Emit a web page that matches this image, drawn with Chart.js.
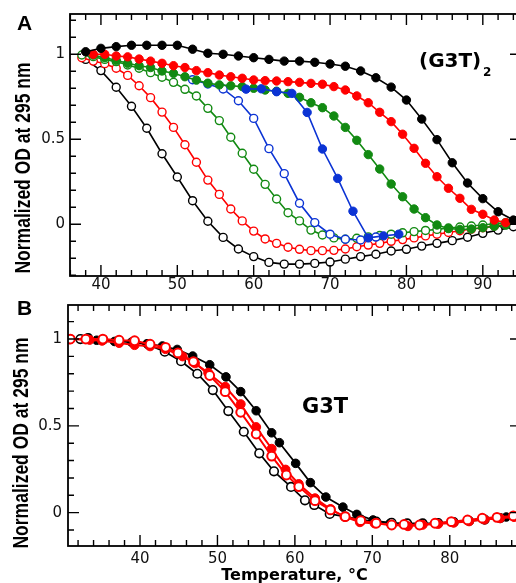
<!DOCTYPE html>
<html>
<head>
<meta charset="utf-8">
<script src="https://cdn.jsdelivr.net/npm/chart.js@4.4.1/dist/chart.umd.min.js"></script>
<style>
    html, body { margin: 0; padding: 0; background: #fff; overflow: hidden; }
    #wrap { position: relative; width: 516px; height: 583px; overflow: hidden; background: #fff; }
    #wrap canvas { position: absolute; left: 0; }
</style>
</head>
<body>
<div id="wrap">
    <canvas id="chartA" width="530" height="300" style="top:0"></canvas>
    <canvas id="chartB" width="530" height="300" style="top:290px"></canvas>
</div>
<script>
// Panel A, (G3T)2 melting curves
const aTempEven = [38, 40, 42, 44, 46, 48, 50, 52, 54, 56, 58, 60, 62, 64, 66, 68, 70, 72, 74, 76, 78, 80, 82, 84, 86, 88, 90, 92, 94];
const aTempOdd = [37.5, 39, 40.5, 42, 43.5, 45, 46.5, 48, 49.5, 51, 52.5, 54, 55.5, 57, 58.5, 60, 61.5, 63, 64.5, 66, 67.5, 69, 70.5, 72, 73.5, 75, 76.5, 78, 79.5, 81, 82.5, 84, 85.5, 87, 88.5, 90, 91.5, 93];
const aTempOddFrom39 = [39, 40.5, 42, 43.5, 45, 46.5, 48, 49.5, 51, 52.5, 54, 55.5, 57, 58.5, 60, 61.5, 63, 64.5, 66, 67.5, 69, 70.5, 72, 73.5, 75, 76.5, 78, 79.5, 81, 82.5, 84, 85.5, 87, 88.5, 90, 91.5, 93];
const aBlueOpenTemp = [52, 54, 56, 58, 60, 62, 64, 66, 68, 70, 72, 74, 76];
const aBlueFilledTemp = [59, 61, 63, 65, 67, 69, 71, 73, 75, 77, 79];

const aBlackFilled = [1.015, 1.035, 1.045, 1.053, 1.053, 1.053, 1.053, 1.03, 1.006, 1.0, 0.99, 0.98, 0.97, 0.96, 0.96, 0.953, 0.943, 0.93, 0.902, 0.862, 0.807, 0.731, 0.619, 0.498, 0.362, 0.243, 0.151, 0.074, 0.025];
const aBlackOpen = [0.97, 0.904, 0.806, 0.694, 0.565, 0.415, 0.278, 0.139, 0.018, -0.077, -0.145, -0.19, -0.224, -0.234, -0.234, -0.23, -0.222, -0.205, -0.19, -0.176, -0.157, -0.147, -0.128, -0.112, -0.096, -0.076, -0.053, -0.034, -0.014];
const aRedFilled = [1.0, 1.0, 0.99, 0.985, 0.972, 0.96, 0.947, 0.933, 0.922, 0.904, 0.892, 0.878, 0.868, 0.859, 0.849, 0.845, 0.843, 0.839, 0.835, 0.829, 0.824, 0.81, 0.79, 0.755, 0.715, 0.659, 0.604, 0.53, 0.447, 0.359, 0.28, 0.212, 0.153, 0.088, 0.059, 0.025, 0.01];
const aRedOpen = [0.98, 0.96, 0.945, 0.918, 0.876, 0.815, 0.745, 0.66, 0.57, 0.468, 0.365, 0.26, 0.176, 0.09, 0.02, -0.04, -0.086, -0.112, -0.135, -0.147, -0.155, -0.155, -0.153, -0.145, -0.132, -0.122, -0.112, -0.1, -0.09, -0.08, -0.068, -0.058, -0.048, -0.038, -0.028, -0.02, -0.01, 0.0];
const aGreenFilled = [0.995, 0.98, 0.965, 0.947, 0.933, 0.922, 0.902, 0.888, 0.868, 0.848, 0.83, 0.82, 0.815, 0.81, 0.8, 0.79, 0.783, 0.77, 0.747, 0.715, 0.686, 0.637, 0.57, 0.494, 0.41, 0.325, 0.237, 0.162, 0.09, 0.039, -0.004, -0.025, -0.03, -0.028, -0.02, -0.012, -0.005];
const aGreenOpen = [0.996, 0.986, 0.97, 0.957, 0.937, 0.918, 0.892, 0.865, 0.835, 0.794, 0.755, 0.682, 0.61, 0.512, 0.418, 0.324, 0.235, 0.149, 0.068, 0.02, -0.034, -0.063, -0.08, -0.088, -0.082, -0.074, -0.066, -0.058, -0.05, -0.043, -0.036, -0.03, -0.022, -0.016, -0.01, -0.004, 0.003, 0.01];
const aBlueFilled = [0.795, 0.797, 0.78, 0.77, 0.658, 0.443, 0.27, 0.077, -0.08, -0.068, -0.058];
const aBlueOpen = [0.85, 0.825, 0.796, 0.727, 0.623, 0.445, 0.298, 0.124, 0.01, -0.058, -0.088, -0.092, -0.075];

// Panel B, G3T melting curves
const bBlackFilledTemp = [30.5, 34.4, 36.7, 38.9, 40.9, 42.9, 44.8, 46.8, 49, 51.1, 53, 55, 57, 58, 60.1, 62, 64, 66.2, 68, 70.1, 72.3, 74.2, 76.2, 78.3, 80.3, 82.4, 84.4, 87.3];
const bBlackFilled = [1.0, 0.993, 0.986, 0.982, 0.973, 0.96, 0.94, 0.902, 0.852, 0.782, 0.697, 0.587, 0.46, 0.403, 0.284, 0.173, 0.09, 0.032, -0.01, -0.042, -0.061, -0.067, -0.067, -0.062, -0.055, -0.046, -0.037, -0.025];
const bBlackOpenTemp = [32.3, 33.3, 35.2, 37.2, 39.2, 41.2, 43.2, 45.3, 47.4, 49.4, 51.4, 53.4, 55.4, 57.3, 59.5, 61.3, 62.5, 64.5, 66.5, 68.5, 70.5, 72.5, 74.5, 76.5, 78.5, 80.5, 82.5, 84.5, 86.5];
const bBlackOpen = [1.0, 1.005, 0.995, 0.99, 0.984, 0.965, 0.927, 0.872, 0.8, 0.706, 0.585, 0.466, 0.342, 0.238, 0.148, 0.071, 0.044, -0.007, -0.023, -0.04, -0.052, -0.058, -0.062, -0.062, -0.06, -0.055, -0.048, -0.04, -0.032];
const bRedFilledTemp = [31, 33.5, 35.1, 37.3, 39.3, 41.3, 43.3, 45.5, 47.1, 48.8, 51, 53, 55, 57, 58.8, 60.5, 62.6, 64.6, 66.4, 68.4, 70.3, 72.5, 74.6, 76.5, 78.5, 80.5, 82.5, 84.5, 86.5, 88.3];
const bRedFilled = [1.0, 0.995, 0.99, 0.977, 0.965, 0.958, 0.942, 0.9, 0.86, 0.806, 0.725, 0.625, 0.493, 0.368, 0.248, 0.165, 0.083, 0.021, -0.023, -0.055, -0.062, -0.07, -0.078, -0.07, -0.065, -0.058, -0.05, -0.04, -0.032, -0.025];
const bRedOpenTemp = [31, 33, 35.2, 37.3, 39.3, 41.3, 43.3, 44.9, 46.9, 49, 51, 53, 55, 57, 58.9, 60.5, 62.6, 64.6, 66.5, 68.5, 70.5, 72.5, 74.1, 76.1, 78.1, 80.2, 82.3, 84.2, 86.1, 88.2];
const bRedOpen = [1.0, 1.0, 1.0, 0.993, 0.99, 0.97, 0.952, 0.92, 0.87, 0.79, 0.697, 0.578, 0.453, 0.326, 0.217, 0.15, 0.069, 0.016, -0.023, -0.046, -0.061, -0.071, -0.068, -0.071, -0.061, -0.052, -0.042, -0.032, -0.027, -0.019];

const BLACK = '#000000';
const RED = '#ff0000';
const GREEN = '#128a12';
const BLUE = '#0b33d4';

// one curve: filled or open circles joined by a line
function curve(temps, values, color, filled, size) {
    return {
        data: temps.map((t, i) => ({ x: t, y: values[i] })),
        showLine: true,
        borderColor: color,
        borderWidth: size.line,
        backgroundColor: filled ? color : '#ffffff',
        pointBackgroundColor: filled ? color : '#ffffff',
        pointBorderColor: color,
        pointBorderWidth: filled ? 1 : size.ring,
        pointRadius: filled ? size.dot : size.open,
        tension: 0
    };
}

// box round the plot with inward ticks
const frameTicks = {
    id: 'frameTicks',
    afterDatasetsDraw(chart, args, opts) {
        const { ctx, chartArea: a, scales: { x, y } } = chart;
        ctx.save();
        ctx.strokeStyle = '#000';
        ctx.lineWidth = 1.4;
        ctx.beginPath();
        for (let v = Math.ceil(x.min / 2) * 2; v <= x.max; v += 2) {
            const px = x.getPixelForValue(v);
            const len = v % 10 === 0 ? 11 : 6;
            ctx.moveTo(px, a.bottom); ctx.lineTo(px, a.bottom - len);
            ctx.moveTo(px, a.top); ctx.lineTo(px, a.top + len);
        }
        for (let k = Math.ceil(y.min * 10); k <= y.max * 10; k++) {
            const py = y.getPixelForValue(k / 10);
            const major = k % 5 === 0;
            ctx.moveTo(a.left, py); ctx.lineTo(a.left + (major ? 11 : 6), py);
            if (major) { ctx.moveTo(a.right, py); ctx.lineTo(a.right - 11, py); }
        }
        ctx.stroke();
        ctx.lineWidth = 1.8;
        ctx.strokeRect(a.left, a.top, a.right - a.left, a.bottom - a.top);
        ctx.restore();
    }
};

// panel letters, curve names and the y title
const panelText = {
    id: 'panelText',
    afterDraw(chart, args, opts) {
        const ctx = chart.ctx;
        ctx.save();
        ctx.fillStyle = '#000';
        opts.items.forEach(it => {
            ctx.save();
            ctx.font = it.font;
            ctx.translate(it.x, it.y);
            ctx.scale(it.stretch || 1, 1);
            if (it.rotate) ctx.rotate(it.rotate);
            ctx.textAlign = it.align || 'left';
            ctx.textBaseline = it.baseline || 'alphabetic';
            ctx.fillText(it.text, 0, 0);
            ctx.restore();
        });
        ctx.restore();
    }
};

function panelOptions(p) {
    return {
        responsive: false,
        animation: false,
        layout: { padding: { top: p.top, right: p.right, left: 0, bottom: 0 } },
        plugins: {
            legend: { display: false },
            tooltip: { enabled: false },
            panelText: { items: p.texts }
        },
        scales: {
            x: {
                type: 'linear',
                min: p.xMin,
                max: p.xMax,
                grid: { display: false, drawTicks: false },
                border: { display: false },
                ticks: {
                    stepSize: 10,
                    includeBounds: false,
                    padding: p.xPad,
                    color: '#111',
                    font: { family: 'DejaVu Sans', size: 15 }
                },
                title: p.xTitle ? {
                    display: true,
                    text: p.xTitle,
                    color: '#000',
                    padding: { top: 0, bottom: 5 },
                    font: { family: 'DejaVu Sans', size: 16, weight: 'bold' }
                } : { display: false },
                afterFit: s => { s.height = p.xHeight; }
            },
            y: {
                type: 'linear',
                min: p.yMin,
                max: p.yMax,
                grid: { display: false, drawTicks: false },
                border: { display: false },
                ticks: {
                    stepSize: 0.5,
                    includeBounds: false,
                    padding: p.yPad,
                    color: '#111',
                    font: { family: 'DejaVu Sans', size: 15 },
                    callback: v => String(v)
                },
                afterFit: s => { s.width = p.yWidth; }
            }
        }
    };
}

const yTitle = 'Normalized OD at 295 nm';
const sizeA = { line: 1.6, dot: 4.2, open: 4, ring: 1.4 };
const sizeB = { line: 1.7, dot: 4.3, open: 4.3, ring: 1.6 };

new Chart(document.getElementById('chartA'), {
    type: 'scatter',
    data: {
        datasets: [
            curve(aTempEven, aBlackFilled, BLACK, true, sizeA),
            curve(aTempOddFrom39, aRedFilled, RED, true, sizeA),
            curve(aBlueFilledTemp, aBlueFilled, BLUE, true, sizeA),
            curve(aTempOddFrom39, aGreenFilled, GREEN, true, sizeA),
            curve(aBlueOpenTemp, aBlueOpen, BLUE, false, sizeA),
            curve(aTempOdd, aGreenOpen, GREEN, false, sizeA),
            curve(aTempOdd, aRedOpen, RED, false, sizeA),
            curve(aTempEven, aBlackOpen, BLACK, false, sizeA)
        ]
    },
    options: panelOptions({
        top: 14, right: 9, xHeight: 24, yWidth: 70, xPad: 0, yPad: 5,
        xMin: 35.95, xMax: 95, yMin: -0.304, yMax: 1.237,
        texts: [
            { text: 'A', x: 17, y: 30, font: 'bold 21px "Liberation Sans"' },
            { text: '(G3T)', x: 419, y: 67, font: 'bold 20px "DejaVu Sans"' },
            { text: '2', x: 483, y: 76, font: 'bold 12px "DejaVu Sans"' },
            { text: yTitle, x: 23.5, y: 168, font: 'bold 17.5px "Liberation Sans"', align: 'center', baseline: 'middle', rotate: -Math.PI / 2, stretch: 1.25 }
        ]
    }),
    plugins: [frameTicks, panelText]
});

new Chart(document.getElementById('chartB'), {
    type: 'scatter',
    data: {
        datasets: [
            curve(bRedOpenTemp, bRedOpen, RED, false, { line: 2, dot: 4.3, open: 4.4, ring: 2 }),
            curve(bRedFilledTemp, bRedFilled, RED, true, { line: 2, dot: 4.5, open: 4.3, ring: 1.6 }),
            curve(bBlackOpenTemp, bBlackOpen, BLACK, false, sizeB),
            curve(bBlackFilledTemp, bBlackFilled, BLACK, true, sizeB)
        ]
    },
    options: panelOptions({
        top: 15, right: 9, xHeight: 44, yWidth: 68, xPad: 4, yPad: 6,
        xMin: 30.7, xMax: 89.2, yMin: -0.192, yMax: 1.196,
        xTitle: 'Temperature, °C',
        texts: [
            { text: 'B', x: 17, y: 25, font: 'bold 21px "Liberation Sans"' },
            { text: 'G3T', x: 302, y: 123, font: 'bold 21px "DejaVu Sans"' },
            { text: yTitle, x: 21.5, y: 153, font: 'bold 17.5px "Liberation Sans"', align: 'center', baseline: 'middle', rotate: -Math.PI / 2, stretch: 1.25 }
        ]
    }),
    plugins: [frameTicks, panelText]
});
</script>
</body>
</html>
